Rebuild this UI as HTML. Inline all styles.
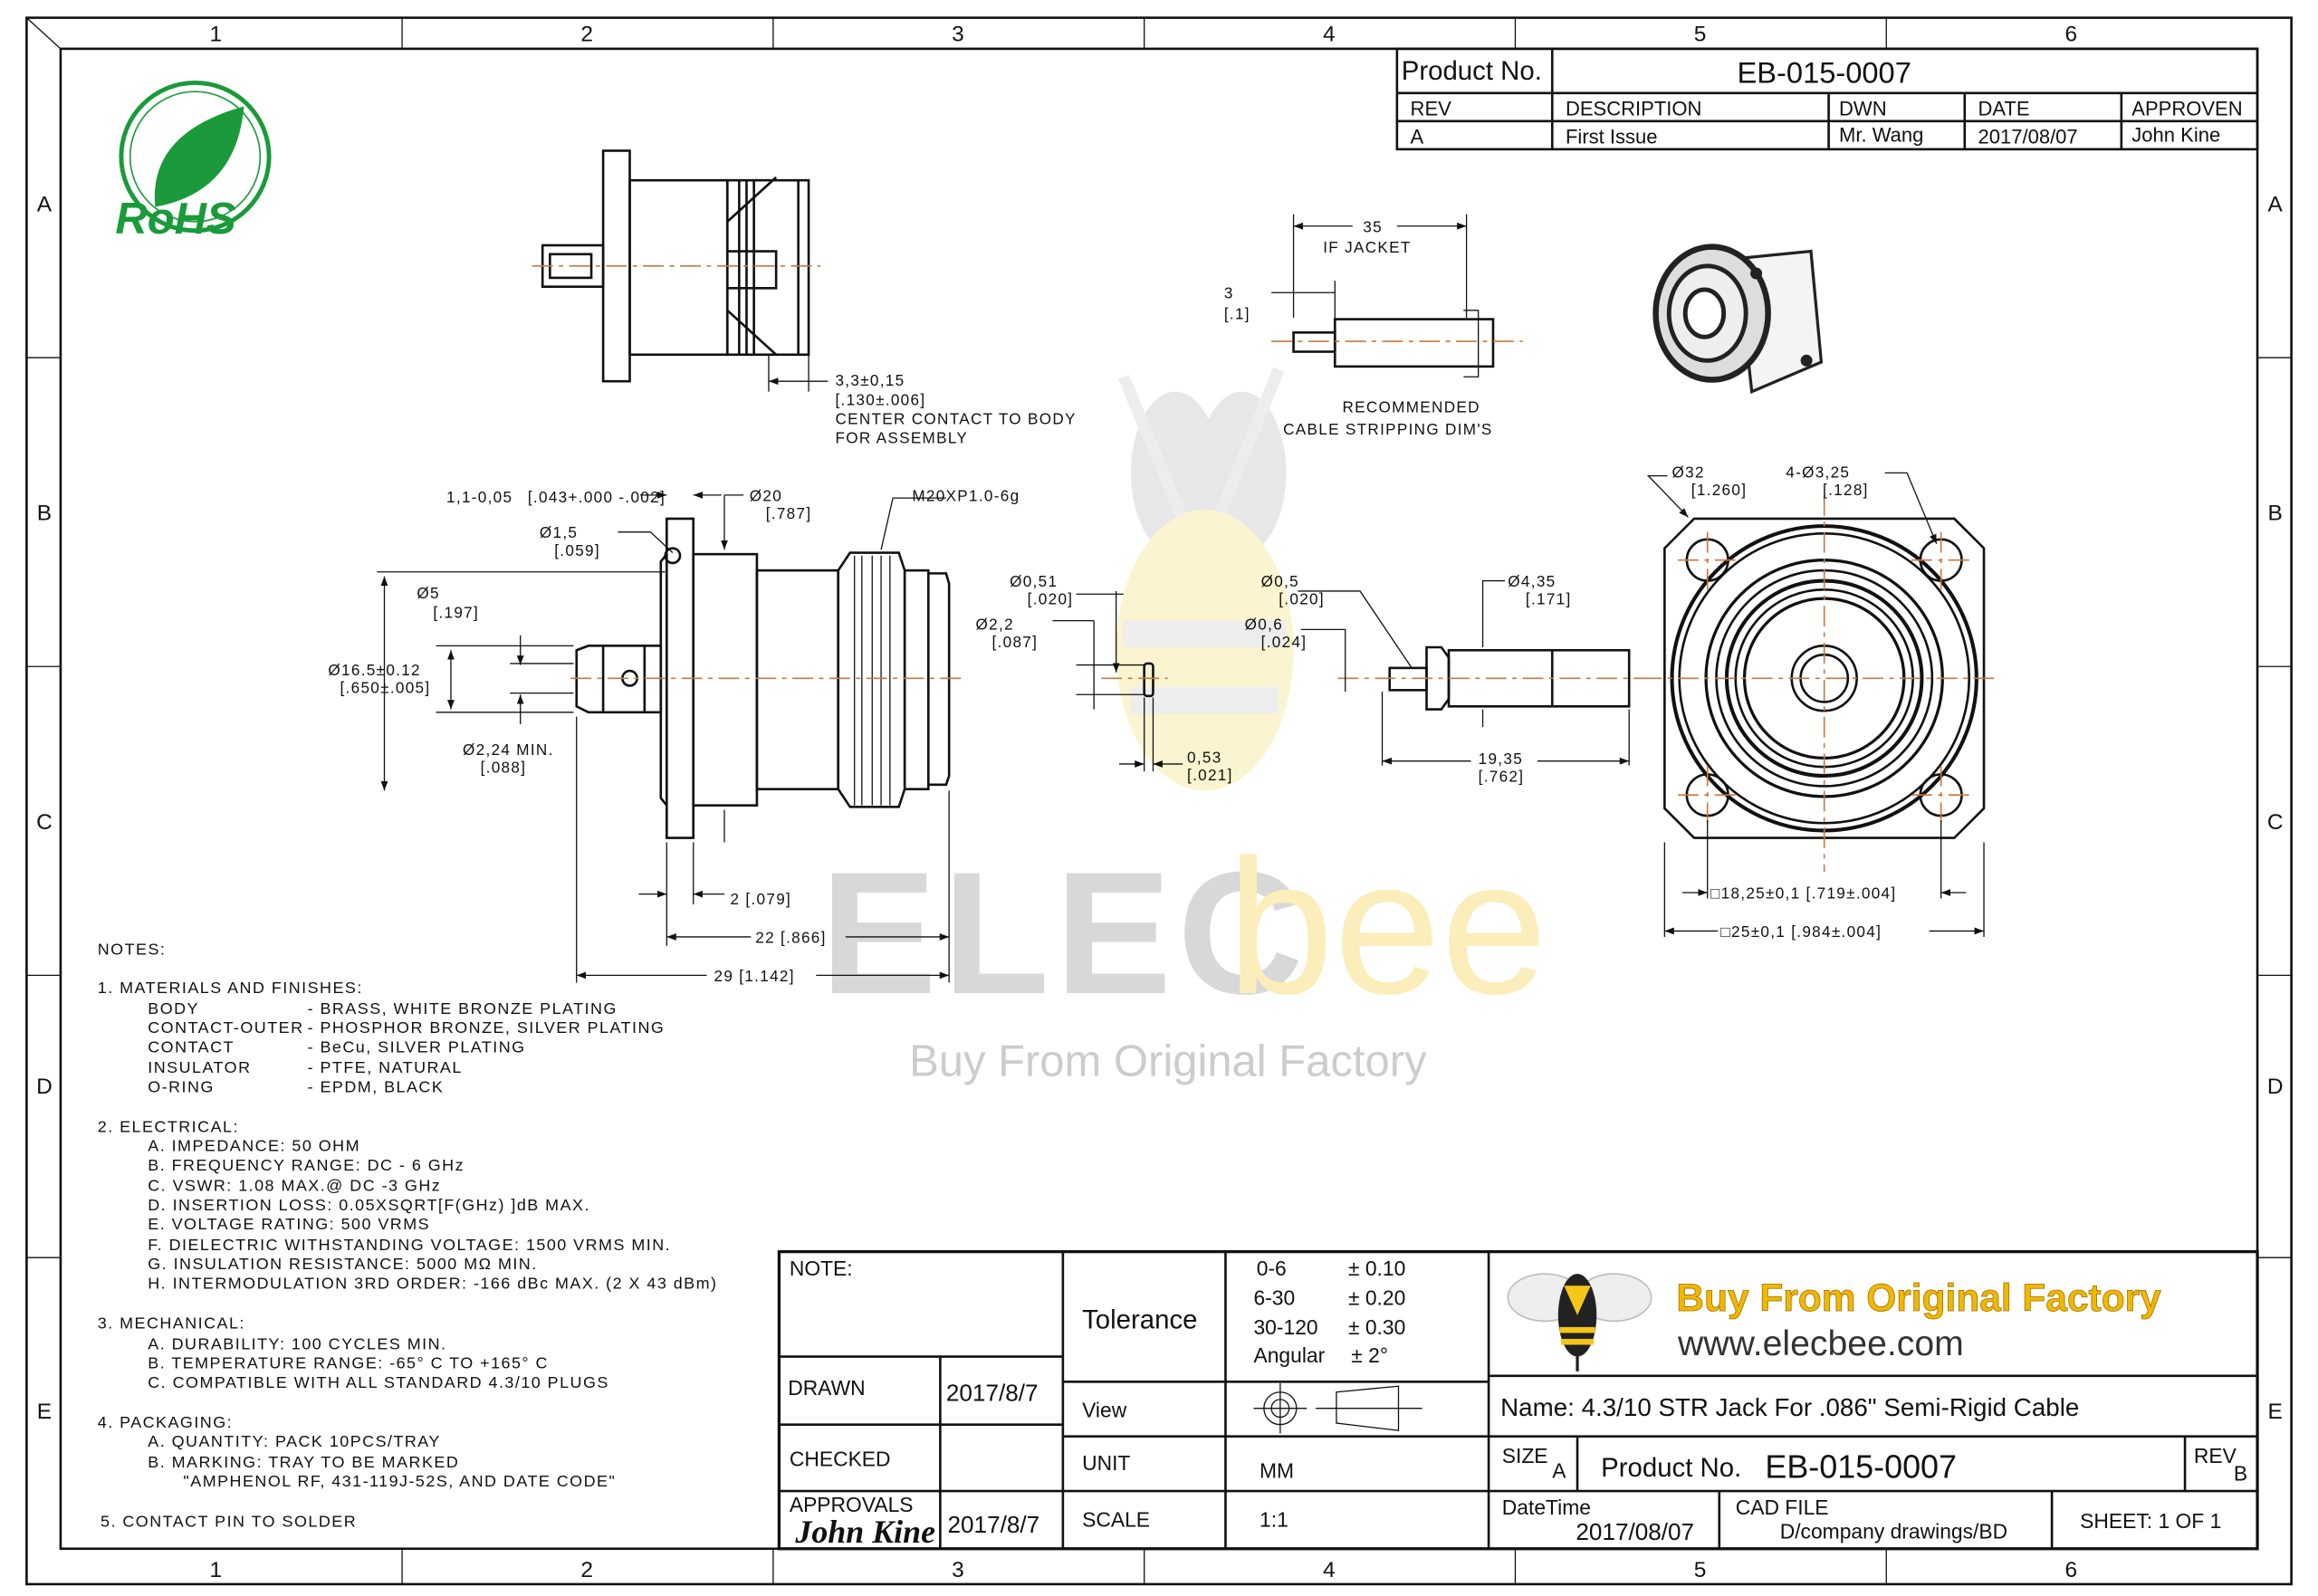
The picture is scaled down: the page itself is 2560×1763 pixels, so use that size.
<!DOCTYPE html>
<html><head><meta charset="utf-8"><style>
html,body{margin:0;padding:0;background:#fff}
svg{display:block}
text{font-family:"Liberation Sans",sans-serif;fill:#111}
.m{font-family:"Liberation Sans",sans-serif;font-size:10.5px;letter-spacing:0.8px}
.n{font-size:11px;letter-spacing:0.9px;font-family:"Liberation Sans",sans-serif}
.c{stroke:#c8783c;stroke-width:1;stroke-dasharray:14 4 3 4;fill:none}
.l{stroke:#111;fill:none;stroke-width:1.6}
.t{stroke:#111;fill:none;stroke-width:0.8}
.tb{stroke:#111;stroke-width:1.6;fill:none}
</style></head><body>
<svg width="2560" height="1763" viewBox="0 0 1568 1080" preserveAspectRatio="none" xmlns="http://www.w3.org/2000/svg">
<defs><marker id="a" markerWidth="8" markerHeight="6" refX="8" refY="3" orient="auto-start-reverse"><path d="M0,0 L8,3 L0,6z" fill="#111"/></marker></defs>
<rect width="1568" height="1080" fill="#fff"/>
<!-- watermark -->
<g opacity="0.35">
<ellipse cx="795" cy="320" rx="30" ry="55" fill="#bbb"/><ellipse cx="840" cy="320" rx="30" ry="55" fill="#bbb"/>
<path d="M760 255 L812 380 L865 250" stroke="#ccc" stroke-width="8" fill="none"/>
<ellipse cx="815" cy="440" rx="60" ry="95" fill="#f4e07a"/>
<rect x="760" y="420" width="110" height="18" fill="#ccc"/><rect x="765" y="465" width="100" height="18" fill="#ccc"/>
</g>
<text x="555" y="672" font-size="118" font-weight="bold" fill="#ddd" style="fill:#d8d8d8" letter-spacing="4">ELEC</text>
<text x="830" y="672" font-size="130" style="fill:#fbeebb">bee</text>
<text x="615" y="728" font-size="30" style="fill:#ccc">Buy From Original Factory</text>
<!-- frame -->
<rect x="18" y="12" width="1532" height="1060" class="tb"/>
<rect x="41" y="33" width="1486" height="1015" class="tb"/>
<line x1="18" y1="12" x2="41" y2="33" class="t"/>
<g class="t">
<line x1="272" y1="12" x2="272" y2="33"/><line x1="523" y1="12" x2="523" y2="33"/><line x1="774" y1="12" x2="774" y2="33"/><line x1="1025" y1="12" x2="1025" y2="33"/><line x1="1276" y1="12" x2="1276" y2="33"/>
<line x1="272" y1="1048" x2="272" y2="1072"/><line x1="523" y1="1048" x2="523" y2="1072"/><line x1="774" y1="1048" x2="774" y2="1072"/><line x1="1025" y1="1048" x2="1025" y2="1072"/><line x1="1276" y1="1048" x2="1276" y2="1072"/>
<line x1="18" y1="242" x2="41" y2="242"/><line x1="18" y1="451" x2="41" y2="451"/><line x1="18" y1="660" x2="41" y2="660"/><line x1="18" y1="851" x2="41" y2="851"/>
<line x1="1527" y1="242" x2="1550" y2="242"/><line x1="1527" y1="451" x2="1550" y2="451"/><line x1="1527" y1="660" x2="1550" y2="660"/><line x1="1527" y1="851" x2="1550" y2="851"/>
</g>
<g font-size="15" text-anchor="middle">
<text x="146" y="28">1</text><text x="397" y="28">2</text><text x="648" y="28">3</text><text x="899" y="28">4</text><text x="1150" y="28">5</text><text x="1401" y="28">6</text>
<text x="146" y="1067">1</text><text x="397" y="1067">2</text><text x="648" y="1067">3</text><text x="899" y="1067">4</text><text x="1150" y="1067">5</text><text x="1401" y="1067">6</text>
<text x="30" y="143">A</text><text x="30" y="352">B</text><text x="30" y="561">C</text><text x="30" y="740">D</text><text x="30" y="960">E</text>
<text x="1539" y="143">A</text><text x="1539" y="352">B</text><text x="1539" y="561">C</text><text x="1539" y="740">D</text><text x="1539" y="960">E</text>
</g>
<!-- header table -->
<g class="tb"><rect x="945" y="33" width="582" height="68"/><line x1="945" y1="63" x2="1527" y2="63"/><line x1="945" y1="82" x2="1527" y2="82"/><line x1="1050" y1="33" x2="1050" y2="101"/><line x1="1237" y1="63" x2="1237" y2="101"/><line x1="1329" y1="63" x2="1329" y2="101"/><line x1="1435" y1="63" x2="1435" y2="101"/></g>
<text x="948" y="54" font-size="18">Product No.</text><text x="1234" y="56" font-size="20" text-anchor="middle">EB-015-0007</text>
<g font-size="13.5"><text x="954" y="78">REV</text><text x="1059" y="78">DESCRIPTION</text><text x="1244" y="78">DWN</text><text x="1338" y="78">DATE</text><text x="1442" y="78">APPROVEN</text>
<text x="954" y="97">A</text><text x="1059" y="97">First Issue</text><text x="1244" y="96">Mr. Wang</text><text x="1338" y="97">2017/08/07</text><text x="1442" y="96">John Kine</text></g>
<!-- RoHS -->
<circle cx="132" cy="106" r="50" fill="none" stroke="#1a9a3a" stroke-width="3"/>
<circle cx="132" cy="106" r="44" fill="none" stroke="#1a9a3a" stroke-width="1"/>
<path d="M105 140 Q100 90 165 72 Q160 130 105 140z" fill="#1a9a3a"/>
<text x="78" y="158" font-size="30" font-weight="bold" font-style="italic" style="fill:#1a9a3a">RoHS</text>
<!-- top view -->
<g class="l">
<rect x="408" y="102" width="18" height="156"/><rect x="426" y="122" width="66" height="118"/>
<rect x="492" y="122" width="55" height="118"/><line x1="540" y1="122" x2="540" y2="240"/>
<path d="M492 170 L525 170 L525 195 L492 195"/><line x1="500" y1="122" x2="500" y2="240"/><line x1="505" y1="122" x2="505" y2="240"/><line x1="510" y1="122" x2="510" y2="240"/>
<rect x="367" y="166" width="41" height="28"/><rect x="372" y="172" width="28" height="16"/>
<path d="M492 150 L525 120 M492 210 L525 240"/>
</g>
<line x1="360" y1="180" x2="555" y2="180" class="c"/>
<g class="t"><line x1="520" y1="240" x2="520" y2="265"/><line x1="547" y1="240" x2="547" y2="265"/><line x1="520" y1="258" x2="560" y2="258" marker-start="url(#a)"/></g>
<text class="m" x="565" y="261">3,3±0,15</text><text class="m" x="565" y="274">[.130±.006]</text><text class="m" x="565" y="287">CENTER CONTACT TO BODY</text><text class="m" x="565" y="300">FOR ASSEMBLY</text>
<!-- cable -->
<g class="l"><rect x="903" y="216" width="107" height="32"/><rect x="875" y="225" width="28" height="13"/><path d="M990 210 L1000 210 L1000 255 L990 255" class="t"/></g>
<line x1="860" y1="231" x2="1030" y2="231" class="c"/>
<g class="t"><line x1="875" y1="145" x2="875" y2="215"/><line x1="992" y1="145" x2="992" y2="215"/><line x1="875" y1="153" x2="915" y2="153" marker-start="url(#a)"/><line x1="945" y1="153" x2="992" y2="153" marker-end="url(#a)"/>
<line x1="903" y1="190" x2="903" y2="216"/><line x1="860" y1="198" x2="875" y2="198"/><line x1="875" y1="198" x2="903" y2="198"/></g>
<text class="m" x="922" y="157">35</text><text class="m" x="895" y="171">IF JACKET</text>
<text class="m" x="828" y="202">3</text><text class="m" x="828" y="216">[.1]</text>
<text class="m" x="908" y="279">RECOMMENDED</text><text class="m" x="868" y="294">CABLE STRIPPING DIM'S</text>
<!-- 3D photo -->
<g>
<path d="M1175 175 L1225 170 L1232 245 L1185 265z" fill="#f4f4f4" stroke="#222" stroke-width="2"/>
<ellipse cx="1158" cy="212" rx="38" ry="45" fill="#ddd" stroke="#222" stroke-width="4"/>
<ellipse cx="1155" cy="212" rx="26" ry="32" fill="#eee" stroke="#222" stroke-width="3"/>
<ellipse cx="1153" cy="212" rx="13" ry="16" fill="#fff" stroke="#222" stroke-width="3"/>
<circle cx="1188" cy="185" r="4" fill="#222"/><circle cx="1222" cy="244" r="4" fill="#222"/>
</g>
<!-- main side view -->
<g class="l">
<rect x="451" y="351" width="18" height="216"/>
<path d="M451 375 L447 380 L447 540 L451 545"/>
<rect x="469" y="375" width="43" height="170"/>
<rect x="512" y="386" width="55" height="148"/>
<path d="M567 386 L575 374 L608 374 L612 386 L612 534 L608 546 L575 546 L567 534z"/>
<rect x="612" y="386" width="16" height="148"/>
<path d="M628 388 L640 388 L642 395 L642 525 L640 531 L628 531"/>
<path d="M390 440 L398 437 L447 437 L447 482 L398 482 L390 478z"/>
<line x1="408" y1="437" x2="408" y2="482"/><line x1="436" y1="437" x2="436" y2="482"/>
<circle cx="426" cy="459" r="5"/>
<circle cx="455" cy="376" r="5"/>
</g>
<g class="t"><line x1="578" y1="376" x2="578" y2="545"/><line x1="583" y1="376" x2="583" y2="545"/><line x1="590" y1="376" x2="590" y2="545"/><line x1="596" y1="376" x2="596" y2="545"/><line x1="602" y1="376" x2="602" y2="545"/></g>
<line x1="386" y1="459" x2="650" y2="459" class="c"/>
<!-- dims main -->
<g class="t">
<line x1="255" y1="387" x2="450" y2="387"/><line x1="260" y1="390" x2="260" y2="535" marker-start="url(#a)" marker-end="url(#a)"/>
<line x1="295" y1="437" x2="388" y2="437"/><line x1="295" y1="482" x2="388" y2="482"/><line x1="305" y1="440" x2="305" y2="480" marker-start="url(#a)" marker-end="url(#a)"/>
<line x1="352" y1="430" x2="352" y2="450" marker-end="url(#a)"/><line x1="352" y1="490" x2="352" y2="470" marker-end="url(#a)"/>
<line x1="345" y1="449" x2="388" y2="449"/><line x1="345" y1="469" x2="388" y2="469"/>
<line x1="390" y1="485" x2="390" y2="665"/><line x1="451" y1="570" x2="451" y2="640"/><line x1="469" y1="570" x2="469" y2="612"/><line x1="642" y1="535" x2="642" y2="665"/>
<line x1="432" y1="605" x2="451" y2="605" marker-end="url(#a)"/><line x1="490" y1="605" x2="469" y2="605" marker-end="url(#a)"/>
<line x1="451" y1="634" x2="508" y2="634" marker-start="url(#a)"/><line x1="572" y1="634" x2="642" y2="634" marker-end="url(#a)"/>
<line x1="390" y1="660" x2="478" y2="660" marker-start="url(#a)"/><line x1="552" y1="660" x2="642" y2="660" marker-end="url(#a)"/>
<line x1="433" y1="335" x2="451" y2="335" marker-end="url(#a)"/><line x1="488" y1="335" x2="469" y2="335" marker-end="url(#a)"/>
<line x1="503" y1="335" x2="490" y2="335"/><line x1="490" y1="335" x2="490" y2="372" marker-end="url(#a)"/>
<line x1="490" y1="548" x2="490" y2="570"/>
<path d="M418 360 L440 360 L455 374"/>
<path d="M640 337 L604 337 L596 372"/>
</g>
<g class="m">
<text x="302" y="340">1,1-0,05</text><text x="357" y="340">[.043+.000 -.002]</text>
<text x="507" y="339">Ø20</text><text x="518" y="351">[.787]</text>
<text x="617" y="339">M20XP1.0-6g</text>
<text x="365" y="364">Ø1,5</text><text x="375" y="376">[.059]</text>
<text x="282" y="405">Ø5</text><text x="293" y="418">[.197]</text>
<text x="222" y="457">Ø16.5±0.12</text><text x="230" y="469">[.650±.005]</text>
<text x="313" y="511">Ø2,24 MIN.</text><text x="325" y="523">[.088]</text>
<text x="494" y="612">2 [.079]</text><text x="511" y="638">22 [.866]</text><text x="483" y="664">29 [1.142]</text>
</g>
<!-- middle parts -->
<g class="l"><rect x="774" y="449" width="6" height="22" rx="2"/></g>
<line x1="745" y1="459" x2="790" y2="459" class="c"/>
<g class="t">
<line x1="712" y1="420" x2="740" y2="420"/><line x1="740" y1="420" x2="740" y2="480"/><line x1="728" y1="450" x2="775" y2="450"/><line x1="728" y1="470" x2="775" y2="470"/>
<line x1="728" y1="402" x2="760" y2="402"/><line x1="755" y1="400" x2="755" y2="455" marker-end="url(#a)"/>
<line x1="774" y1="472" x2="774" y2="522"/><line x1="780" y1="472" x2="780" y2="522"/><line x1="757" y1="517" x2="774" y2="517" marker-end="url(#a)"/><line x1="800" y1="517" x2="780" y2="517" marker-end="url(#a)"/>
</g>
<text class="m" x="683" y="397">Ø0,51</text><text class="m" x="695" y="409">[.020]</text>
<text class="m" x="660" y="426">Ø2,2</text><text class="m" x="671" y="438">[.087]</text>
<text class="m" x="803" y="516">0,53</text><text class="m" x="803" y="528">[.021]</text>
<g class="l">
<rect x="980" y="440" width="122" height="38"/><line x1="1050" y1="440" x2="1050" y2="478"/>
<path d="M965 438 L975 438 L980 445 L980 473 L975 480 L965 480z"/>
<rect x="940" y="452" width="25" height="15"/>
</g>
<line x1="905" y1="459" x2="1110" y2="459" class="c"/>
<g class="t">
<line x1="935" y1="468" x2="935" y2="518"/><line x1="1102" y1="480" x2="1102" y2="518"/><line x1="935" y1="515" x2="995" y2="515" marker-start="url(#a)"/><line x1="1040" y1="515" x2="1102" y2="515" marker-end="url(#a)"/>
<path d="M1018 393 L1003 393 L1003 438"/><line x1="1003" y1="480" x2="1003" y2="492"/>
<path d="M878 400 L920 400 L955 452"/>
<path d="M880 426 L910 426 L910 468"/>
</g>
<text class="m" x="853" y="397">Ø0,5</text><text class="m" x="865" y="409">[.020]</text>
<text class="m" x="842" y="426">Ø0,6</text><text class="m" x="853" y="438">[.024]</text>
<text class="m" x="1020" y="397">Ø4,35</text><text class="m" x="1032" y="409">[.171]</text>
<text class="m" x="1000" y="517">19,35</text><text class="m" x="1000" y="529">[.762]</text>
<!-- front view -->
<path class="l" d="M1146 351 L1322 351 L1342 371 L1342 547 L1322 567 L1146 567 L1126 547 L1126 371z"/>
<g class="l" fill="none">
<circle cx="1234" cy="459" r="103" stroke-width="2.5"/><circle cx="1234" cy="459" r="98"/><circle cx="1234" cy="459" r="80" stroke-width="2"/><circle cx="1234" cy="459" r="73"/>
<circle cx="1234" cy="459" r="66" stroke-width="2.5"/><circle cx="1234" cy="459" r="60"/><circle cx="1234" cy="459" r="54" stroke-width="2"/>
<circle cx="1234" cy="459" r="22"/><circle cx="1234" cy="459" r="16"/>
<circle cx="1155" cy="379" r="14"/><circle cx="1313" cy="379" r="14"/><circle cx="1155" cy="538" r="14"/><circle cx="1313" cy="538" r="14"/>
</g>
<g class="c" stroke-dasharray="8 4">
<line x1="1110" y1="459" x2="1350" y2="459"/><line x1="1234" y1="335" x2="1234" y2="590"/>
<line x1="1135" y1="379" x2="1175" y2="379"/><line x1="1155" y1="360" x2="1155" y2="400"/>
<line x1="1293" y1="379" x2="1333" y2="379"/><line x1="1313" y1="360" x2="1313" y2="400"/>
<line x1="1135" y1="538" x2="1175" y2="538"/><line x1="1155" y1="518" x2="1155" y2="558"/>
<line x1="1293" y1="538" x2="1333" y2="538"/><line x1="1313" y1="518" x2="1313" y2="558"/>
</g>
<g class="t">
<path d="M1128 322 L1115 322 L1142 350" marker-end="url(#a)"/>
<path d="M1275 320 L1290 320 L1310 368" marker-end="url(#a)"/>
<line x1="1155" y1="555" x2="1155" y2="608"/><line x1="1313" y1="555" x2="1313" y2="608"/>
<line x1="1138" y1="604" x2="1155" y2="604" marker-end="url(#a)"/><line x1="1330" y1="604" x2="1313" y2="604" marker-end="url(#a)"/>
<line x1="1126" y1="570" x2="1126" y2="634"/><line x1="1342" y1="570" x2="1342" y2="634"/>
<line x1="1126" y1="630" x2="1162" y2="630" marker-start="url(#a)"/><line x1="1305" y1="630" x2="1342" y2="630" marker-end="url(#a)"/>
</g>
<text class="m" x="1131" y="323">Ø32</text><text class="m" x="1144" y="335">[1.260]</text>
<text class="m" x="1208" y="323">4-Ø3,25</text><text class="m" x="1233" y="335">[.128]</text>
<text class="m" x="1157" y="608">□18,25±0,1 [.719±.004]</text>
<text class="m" x="1164" y="634">□25±0,1 [.984±.004]</text>
<!-- notes -->
<g class="n">
<text x="66" y="646">NOTES:</text>
<text x="66" y="672">1.  MATERIALS AND FINISHES:</text>
<text x="100" y="686">BODY</text><text x="208" y="686">- BRASS, WHITE BRONZE PLATING</text>
<text x="100" y="699">CONTACT-OUTER</text><text x="208" y="699">- PHOSPHOR BRONZE, SILVER PLATING</text>
<text x="100" y="712">CONTACT</text><text x="208" y="712">- BeCu, SILVER PLATING</text>
<text x="100" y="726">INSULATOR</text><text x="208" y="726">- PTFE, NATURAL</text>
<text x="100" y="739">O-RING</text><text x="208" y="739">- EPDM, BLACK</text>
<text x="66" y="766">2.  ELECTRICAL:</text>
<text x="100" y="779">A. IMPEDANCE:  50 OHM</text>
<text x="100" y="792">B. FREQUENCY RANGE:  DC - 6 GHz</text>
<text x="100" y="806">C. VSWR: 1.08 MAX.@ DC -3 GHz</text>
<text x="100" y="819">D. INSERTION LOSS: 0.05XSQRT[F(GHz) ]dB MAX.</text>
<text x="100" y="832">E. VOLTAGE RATING: 500 VRMS</text>
<text x="100" y="846">F. DIELECTRIC WITHSTANDING VOLTAGE: 1500 VRMS MIN.</text>
<text x="100" y="859">G. INSULATION RESISTANCE: 5000 MΩ MIN.</text>
<text x="100" y="872">H. INTERMODULATION 3RD ORDER:  -166 dBc MAX. (2 X 43 dBm)</text>
<text x="66" y="899">3.  MECHANICAL:</text>
<text x="100" y="913">A. DURABILITY:  100 CYCLES MIN.</text>
<text x="100" y="926">B. TEMPERATURE RANGE:  -65° C TO +165° C</text>
<text x="100" y="939">C. COMPATIBLE WITH ALL STANDARD 4.3/10 PLUGS</text>
<text x="66" y="966">4.  PACKAGING:</text>
<text x="100" y="979">A. QUANTITY: PACK 10PCS/TRAY</text>
<text x="100" y="993">B. MARKING:  TRAY TO BE MARKED</text>
<text x="124" y="1006">"AMPHENOL RF, 431-119J-52S, AND DATE CODE"</text>
<text x="68" y="1033">5. CONTACT PIN TO SOLDER</text>
</g>
<!-- title block -->
<rect x="527" y="847" width="1000" height="201" fill="#fff" stroke="#111" stroke-width="2"/>
<g class="tb">
<line x1="719" y1="847" x2="719" y2="1048"/><line x1="829" y1="847" x2="829" y2="1048"/><line x1="1007" y1="847" x2="1007" y2="1048"/>
<line x1="527" y1="918" x2="719" y2="918"/><line x1="527" y1="964" x2="719" y2="964"/><line x1="527" y1="1009" x2="1007" y2="1009"/>
<line x1="636" y1="918" x2="636" y2="1048"/>
<line x1="719" y1="935" x2="1007" y2="935"/><line x1="719" y1="972" x2="1007" y2="972"/>
<line x1="1007" y1="931" x2="1527" y2="931"/><line x1="1007" y1="972" x2="1527" y2="972"/><line x1="1007" y1="1009" x2="1527" y2="1009"/>
<line x1="1067" y1="972" x2="1067" y2="1009"/><line x1="1478" y1="972" x2="1478" y2="1009"/>
<line x1="1163" y1="1009" x2="1163" y2="1048"/><line x1="1388" y1="1009" x2="1388" y2="1048"/>
</g>
<g font-size="14">
<text x="534" y="863">NOTE:</text>
<text x="732" y="899" font-size="18">Tolerance</text>
<text x="850" y="863">0-6</text><text x="912" y="863">± 0.10</text>
<text x="848" y="883">6-30</text><text x="912" y="883">± 0.20</text>
<text x="848" y="903">30-120</text><text x="912" y="903">± 0.30</text>
<text x="848" y="922">Angular</text><text x="914" y="922">± 2°</text>
<text x="533" y="944">DRAWN</text><text x="640" y="948" font-size="16">2017/8/7</text>
<text x="732" y="959">View</text>
<text x="534" y="992">CHECKED</text>
<text x="732" y="995">UNIT</text><text x="852" y="1000">MM</text>
<text x="534" y="1023">APPROVALS</text>
<text x="538" y="1044" font-size="22" font-style="italic" font-family="Liberation Serif,serif" style="font-family:'Liberation Serif',serif;font-weight:bold">John Kine</text>
<text x="641" y="1037" font-size="16">2017/8/7</text>
<text x="732" y="1033">SCALE</text><text x="852" y="1033">1:1</text>
<text x="1015" y="958" font-size="17">Name:  4.3/10 STR Jack For .086" Semi-Rigid Cable</text>
<text x="1016" y="990">SIZE</text><text x="1050" y="1000">A</text>
<text x="1083" y="999" font-size="18">Product No.</text><text x="1194" y="1000" font-size="22">EB-015-0007</text>
<text x="1484" y="990">REV</text><text x="1511" y="1002">B</text>
<text x="1016" y="1025">DateTime</text><text x="1066" y="1042" font-size="16">2017/08/07</text>
<text x="1174" y="1025">CAD FILE</text><text x="1204" y="1041">D/company drawings/BD</text>
<text x="1407" y="1034">SHEET:  1 OF  1</text>
</g>
<g class="t"><circle cx="866" cy="953" r="11"/><circle cx="866" cy="953" r="6"/><line x1="848" y1="953" x2="884" y2="953"/><line x1="866" y1="936" x2="866" y2="970"/>
<path d="M904 942 L946 938 L946 968 L904 963z"/><line x1="890" y1="953" x2="962" y2="953"/></g>
<!-- bee logo -->
<ellipse cx="1045" cy="878" rx="25" ry="16" fill="#eee" stroke="#bbb"/><ellipse cx="1092" cy="878" rx="25" ry="16" fill="#eee" stroke="#bbb"/>
<ellipse cx="1067" cy="890" rx="13" ry="28" fill="#222"/>
<path d="M1058 870 L1067 890 L1076 870z" fill="#f5c518"/>
<rect x="1055" y="898" width="24" height="4" fill="#f5c518"/><rect x="1056" y="906" width="22" height="4" fill="#f5c518"/>
<line x1="1067" y1="915" x2="1067" y2="928" stroke="#222" stroke-width="2"/>
<text x="1134" y="887" font-size="26" font-weight="bold" style="fill:#f0b800" stroke="#a07000" stroke-width="0.5">Buy From Original Factory</text>
<text x="1135" y="917" font-size="24" style="fill:#333">www.elecbee.com</text>
</svg>
</body></html>
